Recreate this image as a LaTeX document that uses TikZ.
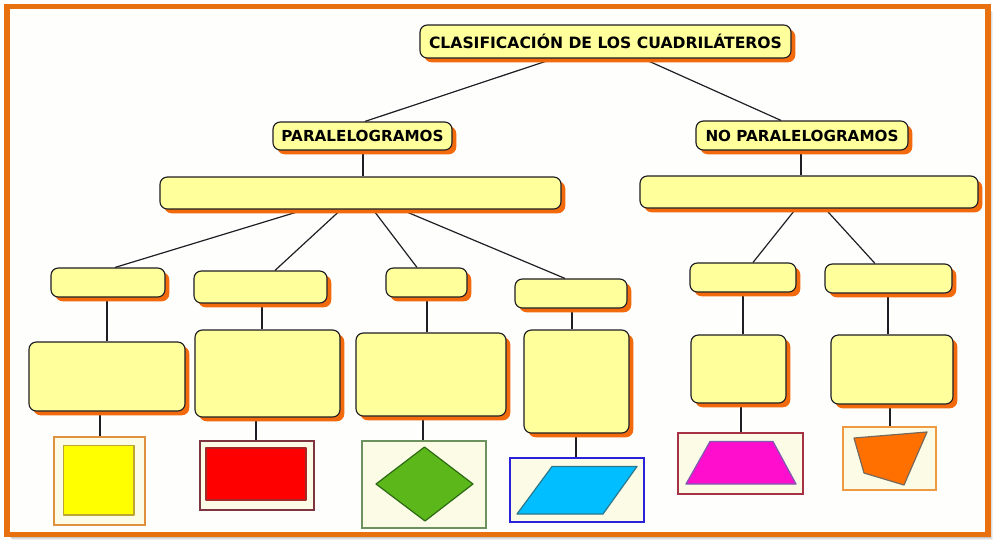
\documentclass[tikz,border=0pt]{standalone}
\usepackage{fontspec}
\setmainfont{DejaVu Sans}
\usetikzlibrary{shadows,backgrounds}
\definecolor{frameorange}{HTML}{E8700F}
\definecolor{shadoworange}{HTML}{F26A0C}
\definecolor{boxyellow}{HTML}{FFFF9C}
\definecolor{boxline}{HTML}{1E1E24}
\definecolor{paper}{HTML}{FEFEFD}
\definecolor{cardfill}{HTML}{FBFBE6}
\definecolor{cardone}{HTML}{E0913F}
\definecolor{cardtwo}{HTML}{7D3540}
\definecolor{cardthree}{HTML}{6E9160}
\definecolor{cardfour}{HTML}{2A22D8}
\definecolor{cardfive}{HTML}{A83245}
\definecolor{cardsix}{HTML}{EE9A40}
\definecolor{squarefill}{HTML}{FFFF00}
\definecolor{squareline}{HTML}{BEA532}
\definecolor{rectfill}{HTML}{FF0000}
\definecolor{rectline}{HTML}{A52828}
\definecolor{rhombfill}{HTML}{5CB81A}
\definecolor{rhombline}{HTML}{2D6914}
\definecolor{parafill}{HTML}{00BEFF}
\definecolor{paraline}{HTML}{2D788C}
\definecolor{trapfill}{HTML}{FF0FCD}
\definecolor{trapline}{HTML}{7D5AAF}
\definecolor{quadfill}{HTML}{FF7000}
\definecolor{quadline}{HTML}{78695A}
\tikzset{
  x=0.75pt,y=-0.75pt,
  concept/.style={draw=boxline,line width=0.85pt,fill=boxyellow,rounded corners=5.5pt,inner sep=0pt,
    font=\bfseries\fontsize{11.4}{13}\selectfont,text=black,
    general shadow={shadow xshift=3.2pt,shadow yshift=-3.2pt,fill=shadoworange,draw=none}},
  card/.style={line width=1.3pt,fill=cardfill,inner sep=0pt},
  link/.style={draw=boxline,line width=0.9pt},
  flat/.style={line width=0.9pt,line join=round},
}
% name, x0, y0, x1, y1, style extras, text
\newcommand{\pxnode}[7]{%
  \pgfmathsetmacro{\pw}{(#4-#2)*0.75}\pgfmathsetmacro{\ph}{(#5-#3)*0.75}%
  \pgfmathsetmacro{\px}{(#2+#4)/2}\pgfmathsetmacro{\py}{(#3+#5)/2}%
  \node[#6,minimum width=\pw pt,minimum height=\ph pt] (#1) at (\px,\py) {#7};}
\newcommand{\linkdown}[4]{%
  \begin{pgfonlayer}{background}\draw[link] (#1.south -| #2,0) -- (#3.north -| #4,0);\end{pgfonlayer}}
\begin{document}
\begin{tikzpicture}
\useasboundingbox (0,0) rectangle (1000,547);
\begin{pgfonlayer}{background}
  \fill[white] (0,0) rectangle (1000,547);
  \foreach \o/\a in {5/0.06,4/0.08,3/0.10,2/0.12,1/0.14}
    \fill[black,opacity=\a] (7+\o,6.5+\o) rectangle (988+\o,534.5+\o);
  \fill[paper] (7,6.5) rectangle (988,534.5);
\end{pgfonlayer}
\draw[frameorange,line width=3.9pt] (7,6.5) rectangle (988,534.5);

\pxnode{root}{420}{25}{791}{58}{concept,font=\bfseries\fontsize{11.7}{13}\selectfont}{CLASIFICACIÓN DE LOS CUADRILÁTEROS}
\pxnode{par}{273}{122}{452}{150}{concept}{PARALELOGRAMOS}
\pxnode{nopar}{696}{121}{908}{150}{concept}{NO PARALELOGRAMOS}
\pxnode{bigl}{160}{177}{561}{209}{concept}{}
\pxnode{bigr}{640}{176}{978}{208}{concept}{}
\pxnode{aone}{51}{268}{165}{297}{concept}{}
\pxnode{atwo}{194}{271}{327}{303}{concept}{}
\pxnode{athree}{386}{268}{467}{297}{concept}{}
\pxnode{afour}{515}{279}{627}{308}{concept}{}
\pxnode{rone}{690}{263}{796}{292}{concept}{}
\pxnode{rtwo}{825}{264}{952}{293}{concept}{}
\pxnode{bone}{29}{342}{185}{411}{concept}{}
\pxnode{btwo}{195}{330}{340}{417}{concept}{}
\pxnode{bthree}{356}{333}{506}{416}{concept}{}
\pxnode{bfour}{524}{330}{629}{433}{concept}{}
\pxnode{sone}{691}{335}{786}{403}{concept}{}
\pxnode{stwo}{831}{335}{953}{404}{concept}{}

\pxnode{pone}{54}{437}{145}{525}{card,draw=cardone}{}
\pxnode{ptwo}{200}{441}{314}{510}{card,draw=cardtwo}{}
\pxnode{pthree}{362}{441}{486}{528}{card,draw=cardthree}{}
\pxnode{pfour}{510}{458}{644}{522}{card,draw=cardfour}{}
\pxnode{pfive}{678}{433}{803}{494}{card,draw=cardfive}{}
\pxnode{psix}{843}{427}{936}{490}{card,draw=cardsix}{}

\linkdown{root}{554}{par}{365}
\linkdown{root}{643}{nopar}{781}
\linkdown{par}{363}{bigl}{363}
\linkdown{nopar}{801}{bigr}{801}
\linkdown{bigl}{305}{aone}{115}
\linkdown{bigl}{341}{atwo}{275}
\linkdown{bigl}{373}{athree}{417}
\linkdown{bigl}{401}{afour}{565}
\linkdown{bigr}{796}{rone}{753}
\linkdown{bigr}{825}{rtwo}{875}
\linkdown{aone}{107}{bone}{107}
\linkdown{atwo}{262}{btwo}{262}
\linkdown{athree}{427}{bthree}{427}
\linkdown{afour}{572}{bfour}{572}
\linkdown{rone}{743}{sone}{743}
\linkdown{rtwo}{888}{stwo}{888}
\linkdown{bone}{100}{pone}{100}
\linkdown{btwo}{256}{ptwo}{256}
\linkdown{bthree}{423}{pthree}{423}
\linkdown{bfour}{576}{pfour}{576}
\linkdown{sone}{741}{pfive}{741}
\linkdown{stwo}{890}{psix}{890}

\filldraw[flat,fill=squarefill,draw=squareline] (63.5,445.5) rectangle (134,515);
\filldraw[flat,fill=rectfill,draw=rectline] (206,448) rectangle (306,500);
\filldraw[flat,fill=rhombfill,draw=rhombline]
  (424.5,447) -- (473,484) -- (425,521) -- (376,484) -- cycle;
\filldraw[flat,fill=parafill,draw=paraline]
  (552,466.5) -- (637,466.5) -- (603,514) -- (517,514) -- cycle;
\filldraw[flat,fill=trapfill,draw=trapline]
  (710,441.5) -- (773,441.5) -- (796,484) -- (686,484) -- cycle;
\filldraw[flat,fill=quadfill,draw=quadline]
  (854,438) -- (927,432) -- (904,485) -- (864,473) -- cycle;
\end{tikzpicture}
\end{document}
